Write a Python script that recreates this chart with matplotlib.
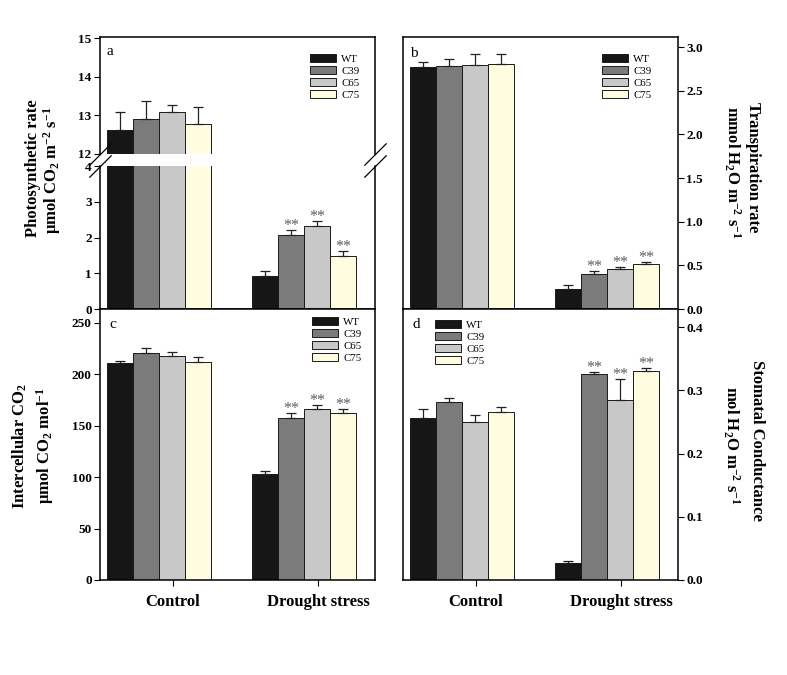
"""Gas exchange of WT and transgenic lines under control and drought"""
import numpy as np
import matplotlib
matplotlib.use('Agg')
import matplotlib.pyplot as plt
from matplotlib.ticker import FormatStrFormatter

plt.rcParams['font.family'] = 'Liberation Serif'
plt.rcParams['font.weight'] = 'bold'
plt.rcParams['mathtext.fontset'] = 'custom'
plt.rcParams['mathtext.rm'] = 'Liberation Serif:bold'
plt.rcParams['mathtext.bf'] = 'Liberation Serif:bold'
plt.rcParams['mathtext.default'] = 'bf'

groups = ["Control", "Drought stress"]
lines = ["WT", "C39", "C65", "C75"]
colors = ["#161616", "#7b7b7b", "#c8c8c8", "#fffce0"]

# values per line: [control, drought]; errors are upper SE only
photo_mean = [[12.63, 0.93], [12.90, 2.08], [13.08, 2.33], [12.77, 1.48]]
photo_err = [[0.46, 0.14], [0.47, 0.14], [0.19, 0.14], [0.45, 0.14]]
trans_mean = [[2.775, 0.23], [2.78, 0.40], [2.80, 0.46], [2.81, 0.51]]
trans_err = [[0.055, 0.05], [0.08, 0.03], [0.12, 0.02], [0.11, 0.03]]
ci_mean = [[211.5, 103.0], [221.0, 157.6], [218.0, 166.4], [212.5, 162.5]]
ci_err = [[2.0, 3.0], [4.5, 5.0], [3.5, 4.2], [4.0, 4.0]]
gs_mean = [[0.257, 0.0265], [0.281, 0.326], [0.250, 0.285], [0.266, 0.330]]
gs_err = [[0.014, 0.004], [0.007, 0.003], [0.011, 0.033], [0.0075, 0.005]]
# significance marks per line: [control, drought]
signif = [["", ""], ["", "**"], ["", "**"], ["", "**"]]

W, H = 787., 675.
fig = plt.figure(figsize=(W/100, H/100), dpi=100)

def box(x0, y0, x1, y1):
    return [x0/W, 1 - y1/H, (x1 - x0)/W, (y1 - y0)/H]

width = 0.179
xg = np.arange(len(groups))

def draw_bars(ax, mean, err, stars=True):
    handles = []
    for i in range(len(lines)):
        xx = xg + (i - 1.5)*width
        m = np.array(mean[i])
        e = np.array(err[i])
        b = ax.bar(xx, m, width, color=colors[i], edgecolor='#1a1a1a',
                   linewidth=0.7, label=lines[i], zorder=2)
        handles.append(b)
        ax.errorbar(xx, m, yerr=[np.zeros_like(e), e], fmt='none', ecolor='#222222',
                    elinewidth=0.9, capsize=3.4, capthick=0.9, zorder=3)
        if stars:
            for j in range(len(groups)):
                if signif[i][j]:
                    ax.annotate(signif[i][j], (xx[j], m[j] + e[j]), xytext=(0, 0),
                                textcoords='offset points', ha='center', va='baseline',
                                fontsize=11.5, fontweight='normal', color='#5e5e5e',
                                annotation_clip=False)
    return handles

def style(ax, right=False, xlabels=False):
    ax.set_xlim(-0.407, 1.49)
    for s in ax.spines.values():
        s.set_linewidth(1.1)
    if xlabels:
        ax.set_xticks(xg + 0.097)
        ax.set_xticklabels(groups, fontsize=12)
        ax.tick_params(axis='x', direction='out', length=4, width=0.8, pad=6)
    else:
        ax.set_xticks([])
    ax.tick_params(axis='y', direction='out', length=4, width=0.8, pad=2, labelsize=9.5)
    if right:
        ax.yaxis.tick_right()

def add_legend(ax, px, py):
    ax.legend(loc='upper left', bbox_to_anchor=(px/W, 1 - py/H),
              bbox_transform=fig.transFigure, frameon=False,
              prop={'weight': 'normal', 'size': 7.8}, handlelength=2.4,
              handleheight=0.75, handletextpad=0.5, labelspacing=0.22,
              borderpad=0, borderaxespad=0)

# panel a, broken axis
ax_at = fig.add_axes(box(100, 37, 375, 154))
ax_ab = fig.add_axes(box(100, 166, 375, 309))
draw_bars(ax_at, photo_mean, photo_err, stars=False)
draw_bars(ax_ab, photo_mean, photo_err)
ax_at.set_ylim(12, 15.03)
ax_at.set_yticks([12, 13, 14, 15])
ax_ab.set_ylim(0, 4)
ax_ab.set_yticks([0, 1, 2, 3, 4])
style(ax_at)
style(ax_ab)
ax_at.spines['bottom'].set_visible(False)
ax_ab.spines['top'].set_visible(False)
kw = dict(marker=[(-1, -1), (1, 1)], markersize=16, linestyle='none', color='k',
          mec='k', mew=0.9, clip_on=False)
ax_at.plot([0, 1], [0, 0], transform=ax_at.transAxes, **kw)
ax_ab.plot([0, 1], [1, 1], transform=ax_ab.transAxes, **kw)
add_legend(ax_at, 310, 54)
ax_at.text(0.025, 0.93, "a", transform=ax_at.transAxes, fontsize=11,
           fontweight='normal', va='top')

# panel b
ax_b = fig.add_axes(box(403, 37, 678, 309))
draw_bars(ax_b, trans_mean, trans_err)
ax_b.set_ylim(0, 3.115)
ax_b.set_yticks(np.arange(0, 3.01, 0.5))
ax_b.yaxis.set_major_formatter(FormatStrFormatter('%.1f'))
style(ax_b, right=True)
add_legend(ax_b, 602, 54)
ax_b.text(0.025, 0.965, "b", transform=ax_b.transAxes, fontsize=11,
          fontweight='normal', va='top')

# panel c
ax_c = fig.add_axes(box(100, 309, 375, 580))
draw_bars(ax_c, ci_mean, ci_err)
ax_c.set_ylim(0, 263.6)
ax_c.set_yticks(np.arange(0, 251, 50))
style(ax_c, xlabels=True)
add_legend(ax_c, 312, 317)
ax_c.text(0.035, 0.965, "c", transform=ax_c.transAxes, fontsize=11,
          fontweight='normal', va='top')

# panel d
ax_d = fig.add_axes(box(403, 309, 678, 580))
draw_bars(ax_d, gs_mean, gs_err)
ax_d.set_ylim(0, 0.4286)
ax_d.set_yticks(np.arange(0, 0.41, 0.1))
ax_d.yaxis.set_major_formatter(FormatStrFormatter('%.1f'))
style(ax_d, right=True, xlabels=True)
add_legend(ax_d, 435, 320)
ax_d.text(0.035, 0.965, "d", transform=ax_d.transAxes, fontsize=11,
          fontweight='normal', va='top')

# axis titles
def label(x, y, s, rot):
    fig.text(x/W, 1 - y/H, s, rotation=rot, ha='center', va='center', fontsize=12)

label(33, 168, "Photosynthetic rate", 90)
label(52, 170, u"\u00b5mol CO$_2$ m$^{-2}$ s$^{-1}$", 90)
label(20, 446, "Intercellular CO$_2$", 90)
label(45, 446, u"\u00b5mol CO$_2$ mol$^{-1}$", 90)
label(753, 167, "Transpiration rate", -90)
label(732, 172, "mmol H$_2$O m$^{-2}$ s$^{-1}$", -90)
label(757, 440, "Stomatal Conductance", -90)
label(731, 445, "mol H$_2$O m$^{-2}$ s$^{-1}$", -90)

plt.savefig("out.png", dpi=100)
